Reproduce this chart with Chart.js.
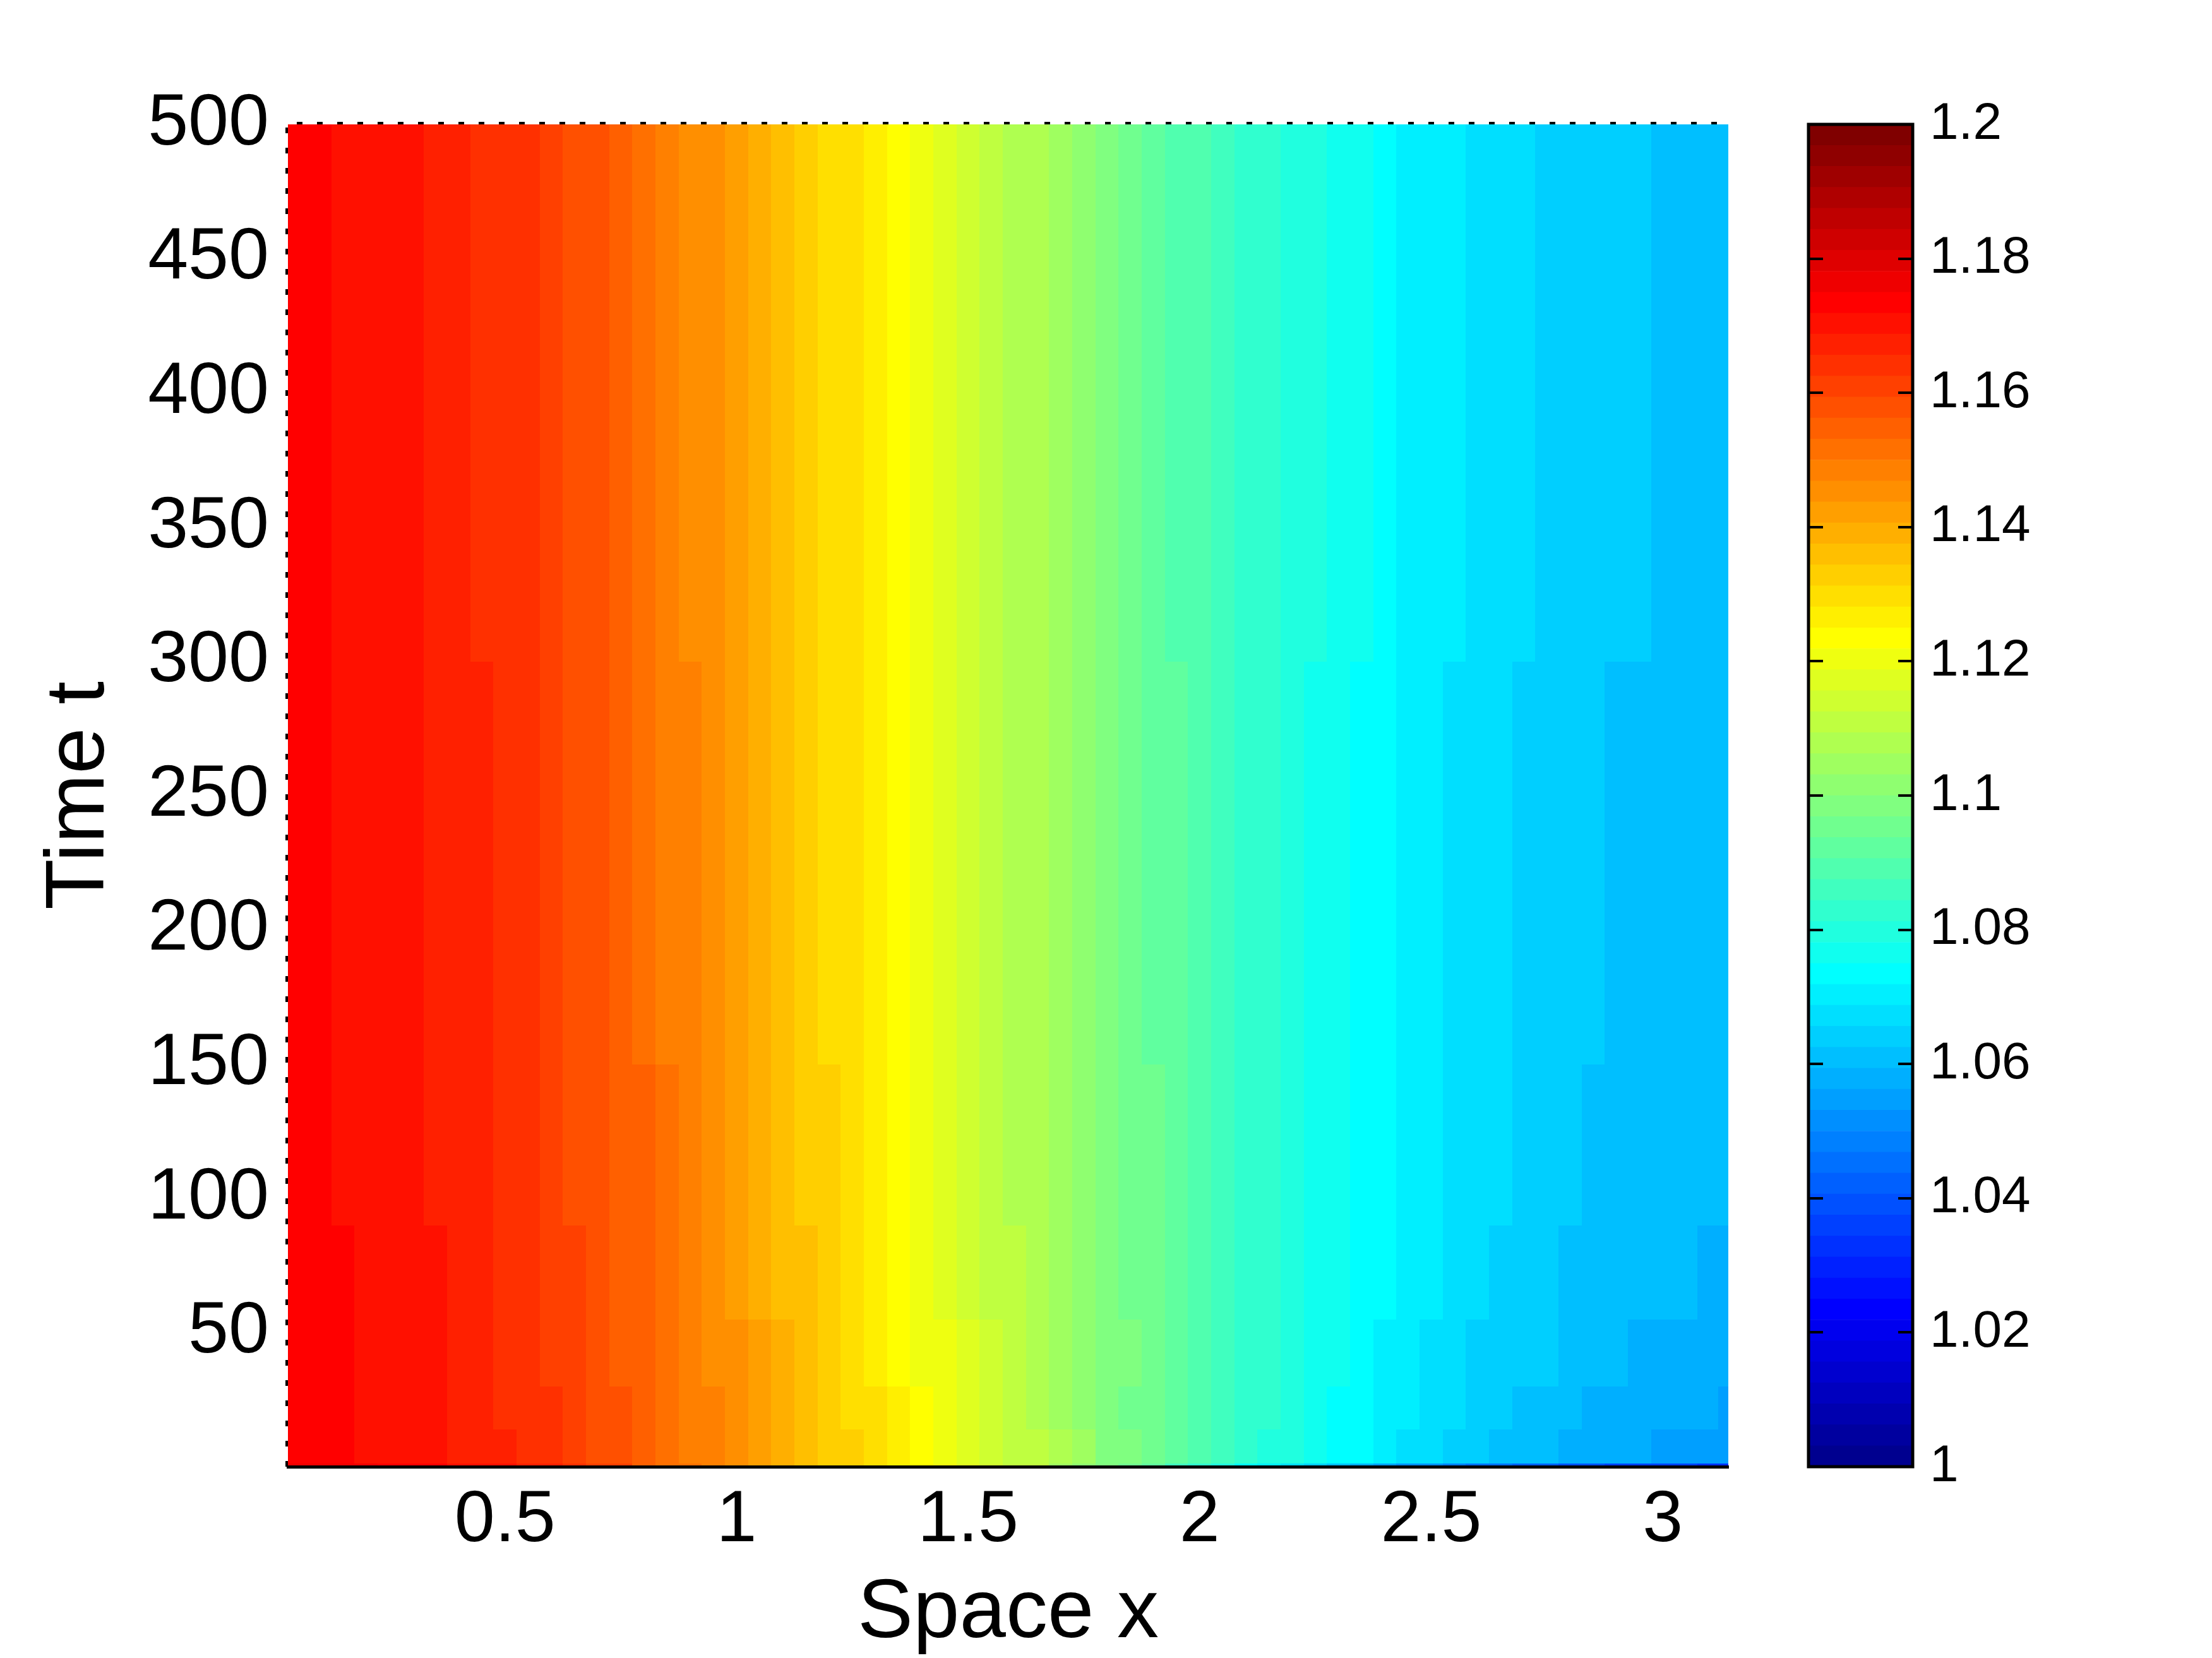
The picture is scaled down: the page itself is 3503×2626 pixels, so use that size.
<!DOCTYPE html>
<html lang="en">
<head>
  <meta charset="UTF-8" />
  <title>Space-time map</title>
  <script src="https://cdn.jsdelivr.net/npm/chart.js"></script>
  <style>
    body { margin: 0; background: #fff; }
    #wrap { position: relative; width: 3503px; height: 2626px; background: #fff; }
    #wrap canvas { position: absolute; left: 0; top: 0; }
  </style>
</head>
<body>
  <div id="wrap">
    <canvas id="map" width="3503" height="2626"></canvas>
    <canvas id="bar" width="3503" height="2626"></canvas>
  </div>

  <script>
    // x cell centres (space), t row edges (time)
    const xCenters = [0.05,0.10,0.15,0.20,0.25,0.30,0.35,0.40,0.45,0.50,0.55,0.60,0.65,0.70,0.75,0.80,0.85,0.90,0.95,1.00,
                      1.05,1.10,1.15,1.20,1.25,1.30,1.35,1.40,1.45,1.50,1.55,1.60,1.65,1.70,1.75,1.80,1.85,1.90,1.95,2.00,
                      2.05,2.10,2.15,2.20,2.25,2.30,2.35,2.40,2.45,2.50,2.55,2.60,2.65,2.70,2.75,2.80,2.85,2.90,2.95,3.00,
                      3.05,3.10,3.14];
    const tEdges = [0, 1.5, 14, 30, 55, 90, 150, 300, 500];

    // u(x,t) per time band
    const u0 = [1.1770,1.1765,1.1760,1.1752,1.1745,1.1737,1.1730,1.1718,1.1705,1.1690,1.1675,1.1660,1.1640,1.1620,1.1600,1.1560,1.1529,1.1501,1.1481,1.1455,
                1.1425,1.1395,1.1366,1.1339,1.1319,1.1291,1.1262,1.1233,1.1203,1.1173,1.1144,1.1119,1.1099,1.1060,1.1020,1.0980,1.0945,1.0910,1.0870,1.0830,
                1.0790,1.0750,1.0715,1.0680,1.0645,1.0610,1.0580,1.0550,1.0525,1.0500,1.0480,1.0460,1.0440,1.0425,1.0410,1.0395,1.0380,1.0370,1.0360,1.0350,
                1.0345,1.0340,1.0335];                              // t 0 - 1.5
    const u1 = [1.1741,1.1733,1.1725,1.1717,1.1709,1.1701,1.1697,1.1684,1.1671,1.1657,1.1642,1.1629,1.1609,1.1589,1.1570,1.1558,1.1527,1.1499,1.1479,1.1453,
                1.1423,1.1393,1.1364,1.1337,1.1317,1.1289,1.1260,1.1231,1.1201,1.1171,1.1142,1.1117,1.1097,1.1066,1.1034,1.0997,1.0970,1.0942,1.0909,1.0883,
                1.0858,1.0834,1.0811,1.0788,1.0765,1.0746,1.0727,1.0705,1.0683,1.0668,1.0651,1.0636,1.0622,1.0609,1.0598,1.0588,1.0581,1.0573,1.0565,1.0560,
                1.0556,1.0551,1.0547];                              // t 1.5 - 14
    const u2 = [1.1740,1.1732,1.1724,1.1716,1.1708,1.1700,1.1695,1.1682,1.1669,1.1655,1.1640,1.1626,1.1606,1.1586,1.1567,1.1553,1.1522,1.1494,1.1474,1.1448,
                1.1418,1.1388,1.1359,1.1332,1.1312,1.1284,1.1255,1.1226,1.1196,1.1166,1.1137,1.1112,1.1092,1.1061,1.1030,1.0994,1.0968,1.0941,1.0909,1.0884,
                1.0859,1.0836,1.0813,1.0790,1.0768,1.0749,1.0731,1.0709,1.0688,1.0673,1.0659,1.0646,1.0633,1.0620,1.0610,1.0600,1.0592,1.0584,1.0576,1.0571,
                1.0568,1.0564,1.0561];                              // t 14 - 30
    const u3 = [1.1738,1.1730,1.1722,1.1714,1.1706,1.1698,1.1691,1.1678,1.1665,1.1651,1.1636,1.1620,1.1600,1.1580,1.1561,1.1545,1.1514,1.1486,1.1466,1.1440,
                1.1410,1.1380,1.1351,1.1324,1.1304,1.1276,1.1247,1.1218,1.1188,1.1158,1.1129,1.1104,1.1084,1.1053,1.1025,1.0993,1.0969,1.0943,1.0912,1.0887,
                1.0862,1.0838,1.0816,1.0794,1.0773,1.0755,1.0738,1.0717,1.0697,1.0682,1.0668,1.0656,1.0645,1.0634,1.0625,1.0616,1.0608,1.0599,1.0592,1.0588,
                1.0585,1.0581,1.0578];                              // t 30 - 55
    const u4 = [1.1736,1.1728,1.1720,1.1712,1.1704,1.1696,1.1688,1.1675,1.1662,1.1648,1.1633,1.1616,1.1596,1.1576,1.1557,1.1540,1.1509,1.1481,1.1461,1.1435,
                1.1405,1.1375,1.1346,1.1319,1.1299,1.1271,1.1242,1.1213,1.1183,1.1153,1.1124,1.1099,1.1079,1.1048,1.1020,1.0988,1.0966,1.0941,1.0911,1.0887,
                1.0864,1.0840,1.0819,1.0797,1.0777,1.0759,1.0742,1.0722,1.0702,1.0688,1.0675,1.0663,1.0652,1.0640,1.0631,1.0623,1.0617,1.0610,1.0603,1.0599,
                1.0596,1.0592,1.0589];                              // t 55 - 90
    const u5 = [1.1734,1.1726,1.1718,1.1710,1.1702,1.1694,1.1685,1.1672,1.1659,1.1645,1.1630,1.1612,1.1592,1.1572,1.1553,1.1534,1.1503,1.1475,1.1455,1.1429,
                1.1399,1.1369,1.1340,1.1313,1.1293,1.1265,1.1236,1.1207,1.1177,1.1147,1.1118,1.1093,1.1073,1.1042,1.1014,1.0982,1.0960,1.0938,1.0909,1.0886,
                1.0864,1.0842,1.0821,1.0800,1.0780,1.0763,1.0747,1.0727,1.0708,1.0695,1.0682,1.0671,1.0660,1.0649,1.0640,1.0631,1.0624,1.0617,1.0610,1.0606,
                1.0603,1.0599,1.0596];                              // t 90 - 150
    const u6 = [1.1733,1.1725,1.1717,1.1709,1.1701,1.1693,1.1683,1.1670,1.1657,1.1643,1.1628,1.1609,1.1589,1.1569,1.1550,1.1530,1.1499,1.1471,1.1451,1.1425,
                1.1395,1.1365,1.1336,1.1309,1.1289,1.1261,1.1232,1.1203,1.1173,1.1143,1.1114,1.1089,1.1069,1.1038,1.1010,1.0978,1.0956,1.0934,1.0907,1.0885,
                1.0863,1.0842,1.0822,1.0802,1.0781,1.0765,1.0750,1.0731,1.0713,1.0699,1.0687,1.0677,1.0667,1.0656,1.0646,1.0639,1.0633,1.0624,1.0617,1.0613,
                1.0610,1.0606,1.0603];                              // t 150 - 300
    const u7 = [1.1732,1.1724,1.1716,1.1708,1.1700,1.1692,1.1681,1.1668,1.1655,1.1641,1.1626,1.1606,1.1586,1.1566,1.1547,1.1525,1.1494,1.1466,1.1446,1.1420,
                1.1390,1.1360,1.1331,1.1304,1.1284,1.1256,1.1227,1.1198,1.1168,1.1138,1.1109,1.1084,1.1064,1.1033,1.1005,1.0973,1.0951,1.0929,1.0902,1.0882,
                1.0862,1.0842,1.0822,1.0802,1.0783,1.0767,1.0752,1.0733,1.0715,1.0703,1.0691,1.0681,1.0671,1.0661,1.0653,1.0646,1.0640,1.0633,1.0626,1.0622,
                1.0619,1.0615,1.0612];                              // t 300 - 500
    const uRows = [u0, u1, u2, u3, u4, u5, u6, u7];

    const xTicks = [0.5, 1, 1.5, 2, 2.5, 3];
    const tTicks = [50, 100, 150, 200, 250, 300, 350, 400, 450, 500];
    const cbTicks = [1, 1.02, 1.04, 1.06, 1.08, 1.1, 1.12, 1.14, 1.16, 1.18, 1.2];

    const X_MIN = Math.PI / 100, X_MAX = Math.PI;
    const C_MIN = 1, C_MAX = 1.2, N_LEVELS = 64;
    const FONT = '"Liberation Sans", Arial, Helvetica, sans-serif';

    // matlab style jet colormap, level 0..63
    function jet(level) {
      const i = level + 1;
      let r = 0, g = 0, b = 0;
      if (i <= 8) { b = 0.5 + 0.0625 * i; }
      else if (i <= 24) { g = (i - 8) * 0.0625; b = 1; }
      else if (i <= 40) { r = (i - 24) * 0.0625; g = 1; b = 1 - r; }
      else if (i <= 56) { r = 1; g = 1 - (i - 40) * 0.0625; }
      else { r = 1 - (i - 56) * 0.0625; }
      return `rgb(${Math.round(r * 255)},${Math.round(g * 255)},${Math.round(b * 255)})`;
    }
    function levelOf(v) {
      const l = Math.floor((v - C_MIN) / (C_MAX - C_MIN) * N_LEVELS);
      return Math.max(0, Math.min(N_LEVELS - 1, l));
    }

    const heatmap = {
      id: 'heatmap',
      beforeDatasetsDraw(chart) {
        const { ctx, chartArea: a, scales: { x, y } } = chart;
        ctx.save();
        ctx.beginPath();
        ctx.rect(a.left, a.top, a.right - a.left, a.bottom - a.top);
        ctx.clip();
        uRows.forEach((row, r) => {
          const yTop = Math.round(y.getPixelForValue(tEdges[r + 1]));
          const yBot = Math.round(y.getPixelForValue(tEdges[r]));
          row.forEach((v, c) => {
            const x0 = c === 0 ? X_MIN : (xCenters[c - 1] + xCenters[c]) / 2;
            const x1 = c === xCenters.length - 1 ? X_MAX : (xCenters[c] + xCenters[c + 1]) / 2;
            const px0 = Math.round(x.getPixelForValue(x0));
            const px1 = Math.round(x.getPixelForValue(x1));
            ctx.fillStyle = jet(levelOf(v));
            ctx.fillRect(px0, yTop, px1 - px0 + 1, yBot - yTop + 1);
          });
        });
        ctx.restore();
      },
      afterDraw(chart) {
        // dotted left and top frame lines
        const { ctx, chartArea: a } = chart;
        ctx.save();
        ctx.strokeStyle = '#000';
        ctx.lineWidth = 4;
        ctx.setLineDash([9, 23]);
        ctx.beginPath();
        ctx.moveTo(a.left - 2, a.bottom);
        ctx.lineTo(a.left - 2, a.top - 2);
        ctx.lineTo(a.right, a.top - 2);
        ctx.stroke();
        ctx.restore();
      }
    };

    new Chart(document.getElementById('map'), {
      type: 'scatter',
      data: { datasets: [{ data: [] }] },
      options: {
        responsive: false,
        animation: false,
        devicePixelRatio: 1,
        layout: { padding: { left: 0, top: 197, right: 766, bottom: 0 } },
        plugins: { legend: { display: false }, tooltip: { enabled: false } },
        scales: {
          x: {
            type: 'linear',
            min: X_MIN,
            max: X_MAX,
            grid: { display: false, drawTicks: false },
            border: { display: true, color: '#000', width: 5, z: 1 },
            afterBuildTicks: s => { s.ticks = xTicks.map(value => ({ value })); },
            afterFit: s => { s.height = 303; },
            ticks: {
              color: '#000', padding: 17, maxRotation: 0, autoSkip: false,
              font: { family: FONT, size: 115 },
              callback: v => String(v)
            },
            title: {
              display: true, text: 'Space x', color: '#000',
              font: { family: FONT, size: 132, lineHeight: 1.05 },
              padding: { top: 0, bottom: 0 }
            }
          },
          y: {
            type: 'linear',
            min: 0,
            max: 500,
            grid: { display: false, drawTicks: false },
            border: { display: false },
            afterBuildTicks: s => { s.ticks = tTicks.map(value => ({ value })); },
            afterFit: s => { s.width = 456; },
            ticks: {
              color: '#000', padding: 30, autoSkip: false,
              font: { family: FONT, size: 115 },
              callback: v => String(v)
            },
            title: {
              display: true, text: 'Time t', color: '#000',
              font: { family: FONT, size: 132 },
              padding: { top: 48, bottom: 0 }
            }
          }
        }
      },
      plugins: [heatmap]
    });

    // colour bar: one floating bar per colormap level
    const levels = Array.from({ length: N_LEVELS }, (_, l) => l);
    const step = (C_MAX - C_MIN) / N_LEVELS;

    const cbFrame = {
      id: 'cbFrame',
      afterDraw(chart) {
        const { ctx, chartArea: a, scales: { y } } = chart;
        ctx.save();
        ctx.strokeStyle = '#000';
        ctx.lineWidth = 5;
        ctx.strokeRect(a.left, a.top, a.right - a.left, a.bottom - a.top);
        ctx.lineWidth = 4;
        ctx.beginPath();
        cbTicks.forEach(v => {
          const py = Math.round(y.getPixelForValue(v));
          ctx.moveTo(a.left, py); ctx.lineTo(a.left + 23, py);
          ctx.moveTo(a.right, py); ctx.lineTo(a.right - 23, py);
        });
        ctx.stroke();
        ctx.restore();
      }
    };

    new Chart(document.getElementById('bar'), {
      type: 'bar',
      data: {
        labels: [''],
        datasets: levels.map(l => ({
          data: [[C_MIN + l * step, C_MIN + (l + 1) * step]],
          backgroundColor: jet(l),
          borderWidth: 0,
          barPercentage: 1,
          categoryPercentage: 1,
          grouped: false
        }))
      },
      options: {
        responsive: false,
        animation: false,
        devicePixelRatio: 1,
        layout: { padding: { left: 2864, top: 197, right: 0, bottom: 303 } },
        plugins: { legend: { display: false }, tooltip: { enabled: false } },
        scales: {
          x: { display: false },
          y: {
            position: 'right',
            min: C_MIN,
            max: C_MAX,
            grid: { display: false, drawTicks: false },
            border: { display: false },
            afterBuildTicks: s => { s.ticks = cbTicks.map(value => ({ value })); },
            afterFit: s => { s.width = 474; },
            ticks: {
              color: '#000', padding: 27, autoSkip: false,
              font: { family: FONT, size: 82 },
              callback: v => String(+v.toFixed(2))
            }
          }
        }
      },
      plugins: [cbFrame]
    });
  </script>
</body>
</html>
